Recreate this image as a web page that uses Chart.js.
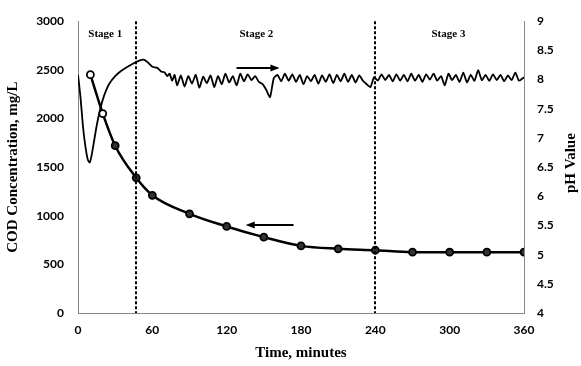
<!DOCTYPE html>
<html>
<head>
<meta charset="utf-8">
<script src="https://cdn.jsdelivr.net/npm/chart.js@4"></script>
<style>
html,body{margin:0;padding:0;background:#fff;}
#wrap{width:581px;height:366px;}
</style>
</head>
<body>
<div id="wrap"><canvas id="c" width="581" height="366"></canvas></div>
<script>
// ---- data ----
const codTimes  = [10, 20, 30, 47, 60, 90, 120, 150, 180, 210, 240, 270, 300, 330, 360];
const codValues = [2450, 2050, 1720, 1390, 1210, 1020, 890, 780, 690, 660, 645, 625, 625, 625, 625];

const pHTimes = [0,2,4,6,8,9.5,11,13,15,18,21,25,30,35,40,45,50,53,56,60,64,67,70,72,
  74,76,78,80,83,86,89,92,95,98,101,104,107,110,113,116,119,122,125,128,131,134,137,140,143,146,149,152,155,158,161,164,167,170,173,176,179,182,185,188,191,194,197,200,203,206,209,212,215,218,221,224,227,230,233,236,239,242,245,248,251,254,257,260,263,266,269,272,275,278,281,284,287,290,293,296,299,302,305,308,311,314,317,320,323,326,329,332,335,338,341,344,347,350,353,356,360];
const pHValues = [8.08,7.7,7.2,6.85,6.62,6.58,6.7,6.95,7.2,7.5,7.72,7.92,8.06,8.15,8.22,8.28,8.33,8.34,8.3,8.22,8.2,8.14,8.12,8.06,
  8.1,7.98,8.08,7.9,8.07,7.88,8.06,7.93,8.08,7.86,8.05,7.94,8.07,7.87,8.06,7.92,8.1,7.95,8.06,7.9,8.1,7.97,8.09,7.99,8.06,7.96,7.92,7.82,7.7,8.02,8.08,7.97,8.1,7.98,8.09,7.96,8.08,7.92,8.06,7.97,8.08,7.93,8.07,7.96,8.09,7.94,8.08,7.97,8.1,7.96,8.08,7.95,8.07,7.98,7.92,7.87,8.04,7.98,8.09,7.99,8.08,7.97,8.09,7.98,8.08,7.97,8.1,7.98,8.08,7.96,8.09,8.0,8.1,7.98,8.06,7.9,8.1,7.99,8.08,7.96,8.12,7.95,8.08,7.98,8.16,7.99,8.08,7.98,8.09,7.99,8.08,7.97,8.07,7.99,8.12,7.98,8.04];

const xTicks   = [0, 60, 120, 180, 240, 300, 360];
const codTicks = [0, 500, 1000, 1500, 2000, 2500, 3000];
const pHTicks  = [4, 4.5, 5, 5.5, 6, 6.5, 7, 7.5, 8, 8.5, 9];

const stageBounds = [47, 240];
const stageLabels = ["Stage 1", "Stage 2", "Stage 3"];
const stageLabelX = [22, 144, 299];
const stageLabelY = 2870;
const arrowPH  = {from: 128, to: 161, y: 8.19};
const arrowCOD = {from: 174, to: 137, y: 906};

// ---- chart ----
const tickFont = {family: "Lato", weight: "bold", size: 12};
const titleFont = "bold 15px 'Liberation Serif'";
const plain = v => String(v);

const overlay = {
  id: 'overlay',
  afterDatasetsDraw(chart) {
    const {ctx, chartArea: a, scales: {x, y, y1}} = chart;
    ctx.save();
    // stage boundaries
    ctx.strokeStyle = '#000';
    ctx.lineWidth = 2;
    ctx.setLineDash([3, 2]);
    stageBounds.forEach(t => {
      const px = Math.round(x.getPixelForValue(t));
      ctx.beginPath(); ctx.moveTo(px, a.top); ctx.lineTo(px, a.bottom); ctx.stroke();
    });
    ctx.setLineDash([]);
    // stage labels
    ctx.fillStyle = '#000';
    ctx.font = "bold 11px 'Liberation Serif'";
    ctx.textAlign = 'center'; ctx.textBaseline = 'middle';
    stageLabels.forEach((s, i) => ctx.fillText(s, x.getPixelForValue(stageLabelX[i]), y.getPixelForValue(stageLabelY)));
    // arrows
    function arrow(x0, x1, py) {
      ctx.lineWidth = 2;
      ctx.beginPath(); ctx.moveTo(x0, py); ctx.lineTo(x1, py); ctx.stroke();
      const d = Math.sign(x1 - x0);
      ctx.beginPath();
      ctx.moveTo(x1 + d * 2, py);
      ctx.lineTo(x1 - d * 7, py - 3.5);
      ctx.lineTo(x1 - d * 7, py + 3.5);
      ctx.closePath(); ctx.fill();
    }
    arrow(x.getPixelForValue(arrowPH.from), x.getPixelForValue(arrowPH.to), Math.round(y1.getPixelForValue(arrowPH.y)));
    arrow(x.getPixelForValue(arrowCOD.from), x.getPixelForValue(arrowCOD.to), Math.round(y.getPixelForValue(arrowCOD.y)));
    // right axis title (reads bottom to top)
    ctx.font = titleFont;
    ctx.translate(571, (a.top + a.bottom) / 2 - 4);
    ctx.rotate(-Math.PI / 2);
    ctx.textAlign = 'center'; ctx.textBaseline = 'middle';
    ctx.fillText('pH Value', 0, 0);
    ctx.restore();
  }
};

new Chart(document.getElementById('c'), {
  type: 'line',
  data: {
    datasets: [
      {
        label: 'COD',
        data: codTimes.map((t, i) => ({x: t, y: codValues[i]})),
        yAxisID: 'y',
        borderColor: '#000',
        borderWidth: 2.5,
        cubicInterpolationMode: 'monotone',
        pointRadius: 3.5,
        pointBorderWidth: 1.8,
        pointBorderColor: '#000',
        pointBackgroundColor: codTimes.map((t, i) => i < 2 ? '#fff' : '#333'),
        fill: false
      },
      {
        label: 'pH',
        data: pHTimes.map((t, i) => ({x: t, y: pHValues[i]})),
        yAxisID: 'y1',
        borderColor: '#000',
        borderWidth: 1.8,
        tension: 0.2,
        pointRadius: 0,
        fill: false
      }
    ]
  },
  options: {
    responsive: false,
    animation: false,
    events: [],
    layout: {padding: {top: 15, left: 0, right: 0, bottom: 0}},
    plugins: {legend: {display: false}, tooltip: {enabled: false}},
    scales: {
      x: {
        type: 'linear', min: 0, max: 360,
        afterBuildTicks: s => { s.ticks = xTicks.map(v => ({value: v})); },
        grid: {display: false, drawTicks: false},
        border: {display: true, color: '#888', width: 1, dash: [5, 3, 1, 3]},
        ticks: {color: '#000', font: tickFont, padding: 10, callback: plain},
        title: {display: true, text: 'Time, minutes', color: '#000', font: {family: 'Liberation Serif', weight: 'bold', size: 15}, padding: {top: 4}},
        afterFit: s => { s.height = 53; }
      },
      y: {
        position: 'left', min: 0, max: 3000,
        afterBuildTicks: s => { s.ticks = codTicks.map(v => ({value: v})); },
        grid: {display: false, drawTicks: false},
        border: {display: true, color: '#888', width: 1, dash: [5, 3, 1, 3]},
        ticks: {color: '#000', font: tickFont, padding: 14, callback: plain},
        title: {display: true, text: 'COD Concentration, mg/L', color: '#000', font: {family: 'Liberation Serif', weight: 'bold', size: 15}, padding: {bottom: 4}},
        afterFit: s => { s.width = 78; }
      },
      y1: {
        position: 'right', min: 4, max: 9,
        afterBuildTicks: s => { s.ticks = pHTicks.map(v => ({value: v})); },
        grid: {display: false, drawTicks: false},
        border: {display: true, color: '#888', width: 1, dash: [5, 3, 1, 3]},
        ticks: {color: '#000', font: tickFont, padding: 13, callback: plain},
        afterFit: s => { s.width = 57; }
      }
    }
  },
  plugins: [overlay]
});
</script>
</body>
</html>
